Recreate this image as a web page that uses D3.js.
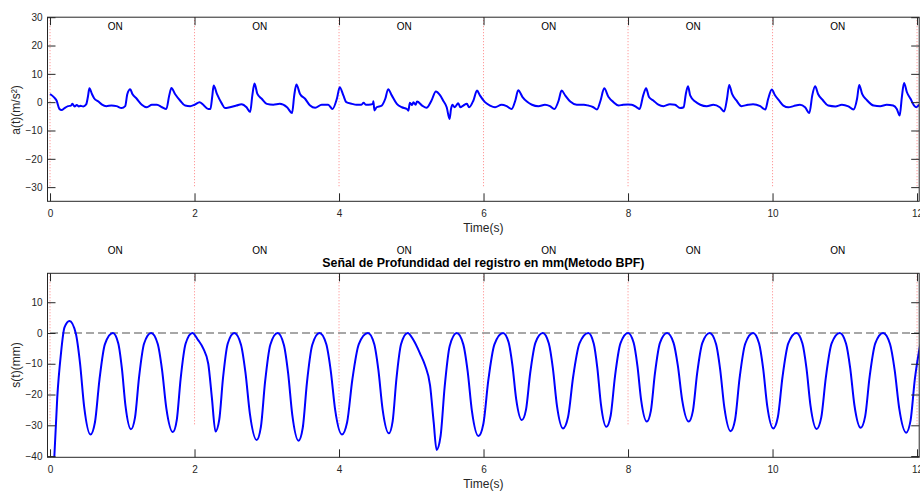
<!DOCTYPE html>
<html>
<head>
<meta charset="utf-8">
<script src="https://cdn.jsdelivr.net/npm/d3@7/dist/d3.min.js"></script>
<style>
  html, body { margin: 0; padding: 0; background: #fff; }
  svg { display: block; font-family: "Liberation Sans", Arial, Helvetica, sans-serif; }
</style>
</head>
<body>
<svg id="chart" width="920" height="494"></svg>
<script>
// ---- data ----
const timeTicks = [0, 2, 4, 6, 8, 10, 12];
const accTicks = [-30, -20, -10, 0, 10, 20, 30];
const depthTicks = [-40, -30, -20, -10, 0, 10];
const segmentMarks = [0, 2, 4, 6, 8, 10, 12];
const onLabelTimes = [0.8, 2.8, 4.8, 6.8, 8.8, 10.8];
const onLabelText = "ON";

// acceleration a(t), m/s^2
const accTime = [
  0.00, 0.06, 0.09, 0.13, 0.16, 0.20, 0.25, 0.29, 0.31, 0.34, 0.37, 0.40, 0.42, 0.46, 0.50, 0.525, 0.545, 0.58, 0.61, 0.67,
  0.72, 0.78, 0.85, 0.92, 0.99, 1.04, 1.07, 1.11, 1.14, 1.20, 1.27, 1.34, 1.41, 1.48, 1.55, 1.61, 1.65, 1.68, 1.73, 1.80,
  1.87, 1.94, 2.00, 2.07, 2.12, 2.19, 2.22, 2.245, 2.265, 2.31, 2.38, 2.42, 2.49, 2.58, 2.65, 2.72, 2.77, 2.80, 2.83, 2.87,
  2.93, 3.00, 3.09, 3.18, 3.28, 3.35, 3.38, 3.41, 3.46, 3.53, 3.60, 3.67, 3.76, 3.85, 3.91, 3.97, 4.01, 4.06, 4.10, 4.18,
  4.24, 4.31, 4.34, 4.37, 4.41, 4.47, 4.475, 4.49, 4.52, 4.59, 4.64, 4.68, 4.73, 4.80, 4.87, 4.94, 4.96, 4.98, 5.01, 5.03,
  5.06, 5.08, 5.15, 5.21, 5.28, 5.34, 5.40, 5.44, 5.49, 5.53, 5.55, 5.57, 5.60, 5.65, 5.68, 5.72, 5.77, 5.80, 5.86, 5.91,
  5.95, 6.02, 6.09, 6.16, 6.25, 6.32, 6.39, 6.44, 6.48, 6.54, 6.60, 6.67, 6.76, 6.85, 6.92, 6.98, 7.04, 7.08, 7.13, 7.20,
  7.29, 7.39, 7.45, 7.52, 7.57, 7.62, 7.67, 7.73, 7.80, 7.87, 7.93, 8.00, 8.05, 8.12, 8.16, 8.21, 8.25, 8.29, 8.35, 8.42,
  8.49, 8.58, 8.65, 8.72, 8.77, 8.80, 8.83, 8.86, 8.93, 9.00, 9.09, 9.18, 9.27, 9.33, 9.37, 9.40, 9.44, 9.50, 9.57, 9.66,
  9.73, 9.83, 9.90, 9.94, 9.99, 10.03, 10.09, 10.15, 10.22, 10.29, 10.38, 10.45, 10.51, 10.55, 10.59, 10.63, 10.70, 10.77, 10.87, 10.96,
  11.05, 11.12, 11.17, 11.20, 11.24, 11.30, 11.40, 11.49, 11.58, 11.67, 11.72, 11.76, 11.79, 11.82, 11.86, 11.91, 11.96, 11.99, 12.03
];
const accValue = [
  2.9, 1.6, 0.6, -2.4, -2.8, -2.1, -1.4, -1.2, -0.6, -1.5, -1.0, -1.5, -1.3, -1.5, -0.8, 2.0, 4.9, 2.9, 1.4, 0.2,
  -0.9, -1.4, -1.2, -1.4, -2.1, -1.4, 2.9, 4.6, 2.9, 1.2, -0.9, -1.8, -0.9, -0.9, -1.8, -2.4, 2.4, 5.0, 2.9, 0.6,
  -1.2, -1.4, -0.9, 0.0, -0.9, -2.4, -2.4, 2.0, 5.9, 2.9, -0.6, -2.1, -1.8, -1.2, -0.7, -1.8, -3.5, 2.4, 6.6, 2.9,
  1.2, -0.6, -0.9, -0.6, -1.8, -3.8, 2.4, 6.2, 2.9, 1.2, -1.2, -2.0, -0.9, -0.9, -2.4, 1.2, 5.3, 2.4, 0.0, -0.6,
  -0.9, -0.9, -0.2, -0.9, -0.9, -0.6, 0.3, -2.9, -1.8, -1.2, 1.2, 4.6, 2.4, -0.6, -1.8, -2.4, -3.0, -0.2, -1.0, 0.0,
  -0.9, 0.2, -1.2, -2.0, 0.6, 3.8, 2.4, 0.6, -1.8, -5.9, -2.4, -0.9, -1.8, -0.4, -1.8, -1.2, -0.6, -1.8, 0.6, 4.1,
  2.4, 0.0, -1.2, -1.8, -0.9, -1.4, -2.4, 0.6, 4.2, 1.8, 0.2, -0.9, -1.4, -0.9, -1.4, -2.4, 0.6, 4.1, 2.4, 0.2,
  -0.9, -0.9, -1.2, -1.8, -2.6, 0.6, 4.9, 1.8, 0.0, -1.2, -0.9, -0.8, -0.9, -1.8, -2.4, 2.4, 4.9, 1.8, 0.6, -0.9,
  -1.4, -0.7, -0.9, -2.1, -1.8, 2.9, 5.6, 2.4, 0.2, -0.9, -1.4, -0.9, -1.8, -3.3, 1.2, 6.1, 2.9, 0.6, -1.4, -0.9,
  -0.7, -1.4, -2.6, 1.2, 4.5, 2.6, 0.6, -1.2, -1.8, -1.4, -0.9, -1.8, -3.8, 2.4, 5.6, 2.9, 0.6, -1.2, -1.5, -0.9,
  -1.5, -2.6, 1.2, 6.1, 2.9, 0.9, -1.2, -1.4, -0.9, -1.2, -2.4, -4.7, 1.8, 6.8, 3.5, 1.2, -1.2, -1.8, -0.9
];

// depth s(t), mm
const depthTime = [
  0.00, 0.06, 0.10, 0.15, 0.20, 0.27, 0.357, 0.415, 0.473, 0.56, 0.622, 0.684, 0.76, 0.87,
  0.945, 0.995, 1.045, 1.12, 1.176, 1.232, 1.302, 1.40,
  1.49, 1.55, 1.61, 1.70, 1.754, 1.808, 1.876, 1.97,
  2.05, 2.12, 2.19, 2.24, 2.29, 2.342, 2.394, 2.459, 2.55,
  2.643, 2.705, 2.767, 2.86, 2.918, 2.976, 3.049, 3.15,
  3.237, 3.295, 3.353, 3.44, 3.498, 3.556, 3.629, 3.73,
  3.823, 3.885, 3.947, 4.04, 4.112, 4.184, 4.274, 4.40,
  4.487, 4.545, 4.603, 4.69, 4.742, 4.794, 4.859, 4.95,
  5.03, 5.12, 5.19, 5.26, 5.31, 5.35, 5.406, 5.462, 5.532, 5.63,
  5.72, 5.78, 5.84, 5.93, 5.998, 6.066, 6.151, 6.27,
  6.348, 6.40, 6.452, 6.53, 6.588, 6.646, 6.719, 6.82,
  6.904, 6.96, 7.016, 7.10, 7.17, 7.24, 7.328, 7.45,
  7.525, 7.575, 7.625, 7.70, 7.76, 7.82, 7.895, 8.00,
  8.078, 8.13, 8.182, 8.26, 8.316, 8.372, 8.442, 8.54,
  8.63, 8.69, 8.75, 8.84, 8.898, 8.956, 9.029, 9.13,
  9.217, 9.275, 9.333, 9.42, 9.482, 9.544, 9.622, 9.73,
  9.814, 9.87, 9.926, 10.01, 10.074, 10.138, 10.218, 10.33,
  10.414, 10.47, 10.526, 10.61, 10.674, 10.738, 10.818, 10.93,
  11.017, 11.075, 11.133, 11.22, 11.282, 11.344, 11.422, 11.53,
  11.626, 11.69, 11.754, 11.85, 11.91, 11.97, 12.045
];
const depthValue = [
  -75, -40, -21, -7, 1.8, 3.9, -0.2, -9.8, -24.1, -33, -29.0, -15.2, -3.6, 0,
  -3.4, -11.6, -23.8, -31.3, -27.5, -14.4, -3.4, 0,
  -3.5, -11.9, -24.5, -32.2, -28.3, -14.8, -3.5, 0,
  -2.3, -5, -10, -21, -32, -28.2, -14.7, -3.5, 0,
  -3.8, -12.9, -26.4, -34.8, -30.6, -16.0, -3.8, 0,
  -3.9, -13.0, -26.6, -35, -30.8, -16.1, -3.9, 0,
  -3.6, -12.2, -25.1, -33, -29.0, -15.2, -3.6, 0,
  -3.6, -12.1, -24.8, -32.6, -28.7, -15.0, -3.6, 0,
  -2.3, -6.6, -10.5, -17, -29, -38, -33.4, -17.5, -4.2, 0,
  -3.7, -12.4, -25.5, -33.5, -29.5, -15.4, -3.7, 0,
  -3.1, -10.5, -21.5, -28.3, -24.9, -13.0, -3.1, 0,
  -3.4, -11.5, -23.6, -31, -27.3, -14.3, -3.4, 0,
  -3.4, -11.3, -23.2, -30.5, -26.8, -14.0, -3.4, 0,
  -3.2, -10.7, -21.9, -28.8, -25.3, -13.2, -3.2, 0,
  -3.2, -10.7, -21.9, -28.8, -25.3, -13.2, -3.2, 0,
  -3.5, -11.8, -24.2, -31.9, -28.1, -14.7, -3.5, 0,
  -3.4, -11.5, -23.6, -31, -27.3, -14.3, -3.4, 0,
  -3.4, -11.5, -23.7, -31.2, -27.5, -14.4, -3.4, 0,
  -3.4, -11.4, -23.4, -30.8, -27.1, -14.2, -3.4, 0,
  -3.6, -12.0, -24.6, -32.4, -28.5, -14.9, -3.6
];

// ---- layout ----
const svg = d3.select("#chart");
const axisColor = "#262626";
const timeDomain = [-0.035, 12.03];
const plotLeft = 47.5, plotRight = 919.2;

const x = d3.scaleLinear().domain(timeDomain).range([plotLeft, plotRight]);

function drawPanel(cfg) {
  const y = d3.scaleLinear().domain(cfg.yDomain).range([cfg.bottom, cfg.top]);
  const g = svg.append("g");

  const clipId = cfg.id + "-clip";
  svg.append("clipPath").attr("id", clipId)
    .append("rect")
    .attr("x", plotLeft).attr("y", cfg.top)
    .attr("width", plotRight - plotLeft).attr("height", cfg.bottom - cfg.top);

  // dotted segment markers
  g.append("g").selectAll("line").data(segmentMarks).join("line")
    .attr("x1", d => x(d)).attr("x2", d => x(d))
    .attr("y1", y(cfg.markTop)).attr("y2", y(-30))
    .attr("stroke", "#ff5a5a").attr("stroke-opacity", 0.75)
    .attr("stroke-width", 1).attr("stroke-dasharray", "1,2")
    .attr("clip-path", `url(#${clipId})`);

  // reference line
  if (cfg.zeroLine) {
    g.append("line")
      .attr("x1", x(0)).attr("x2", plotRight)
      .attr("y1", y(0)).attr("y2", y(0))
      .attr("stroke", "#8a8a8a").attr("stroke-width", 1.5)
      .attr("stroke-dasharray", "8,4");
  }

  // signal
  const pts = cfg.t.map((t, i) => [t, cfg.v[i]]);
  g.append("path")
    .datum(pts)
    .attr("clip-path", `url(#${clipId})`)
    .attr("fill", "none")
    .attr("stroke", "#0000ff")
    .attr("stroke-width", 2)
    .attr("stroke-linejoin", "round")
    .attr("d", d3.line().x(d => x(d[0])).y(d => y(d[1])).curve(d3.curveMonotoneX));

  // ON labels
  g.append("g").selectAll("text").data(onLabelTimes).join("text")
    .attr("x", d => x(d)).attr("y", y(27)).attr("dy", "0.4em")
    .attr("font-size", 10).attr("fill", "#000")
    .text(onLabelText);

  // axes with inward ticks
  const tickLen = 8;
  const axB = g.append("g").attr("transform", `translate(0,${cfg.bottom})`)
    .call(d3.axisBottom(x).tickValues(timeTicks).tickSize(-tickLen).tickPadding(8.5).tickFormat(d3.format("d")));
  const axT = g.append("g").attr("transform", `translate(0,${cfg.top})`)
    .call(d3.axisTop(x).tickValues(timeTicks).tickSize(-tickLen).tickFormat(""));
  const axL = g.append("g").attr("transform", `translate(${plotLeft},0)`)
    .call(d3.axisLeft(y).tickValues(cfg.yTicks).tickSize(-tickLen).tickPadding(5).tickFormat(d3.format("d")));
  const axR = g.append("g").attr("transform", `translate(${plotRight},0)`)
    .call(d3.axisRight(y).tickValues(cfg.yTicks).tickSize(-tickLen).tickFormat(""));
  [axB, axT, axL, axR].forEach(a => {
    a.select(".domain").remove();
    a.selectAll(".tick line").attr("stroke", axisColor);
    a.selectAll(".tick text").attr("fill", axisColor)
      .attr("font-size", 10).attr("font-family", "Liberation Sans, Arial, sans-serif");
  });

  // frame
  g.append("rect")
    .attr("x", plotLeft).attr("y", cfg.top)
    .attr("width", plotRight - plotLeft).attr("height", cfg.bottom - cfg.top)
    .attr("fill", "none").attr("stroke", axisColor).attr("stroke-width", 1);

  // axis titles
  g.append("text")
    .attr("x", (plotLeft + plotRight) / 2).attr("y", cfg.bottom + 30.5)
    .attr("text-anchor", "middle").attr("font-size", 12).attr("fill", axisColor)
    .text("Time(s)");
  g.append("text")
    .attr("transform", `translate(19.5,${cfg.labelY}) rotate(-90)`)
    .attr("text-anchor", "middle").attr("font-size", 12).attr("fill", axisColor)
    .text(cfg.yLabel);

  if (cfg.title) {
    g.append("text")
      .attr("x", (plotLeft + plotRight) / 2).attr("y", cfg.top - 6)
      .attr("text-anchor", "middle").attr("font-size", 12.4).attr("font-weight", "bold")
      .attr("fill", "#000")
      .text(cfg.title);
  }
}

drawPanel({
  id: "acc", top: 17.2, bottom: 201.3, yDomain: [-35, 30], yTicks: accTicks,
  t: accTime, v: accValue, markTop: 30, yLabel: "a(t)(m/s²)", labelY: 110
});

drawPanel({
  id: "depth", top: 273.3, bottom: 457.3, yDomain: [-40.4, 19.4], yTicks: depthTicks,
  t: depthTime, v: depthValue, markTop: 19.4, zeroLine: true,
  yLabel: "s(t)(mm)", labelY: 365,
  title: "Señal de Profundidad del registro en mm(Metodo BPF)"
});
</script>
</body>
</html>
